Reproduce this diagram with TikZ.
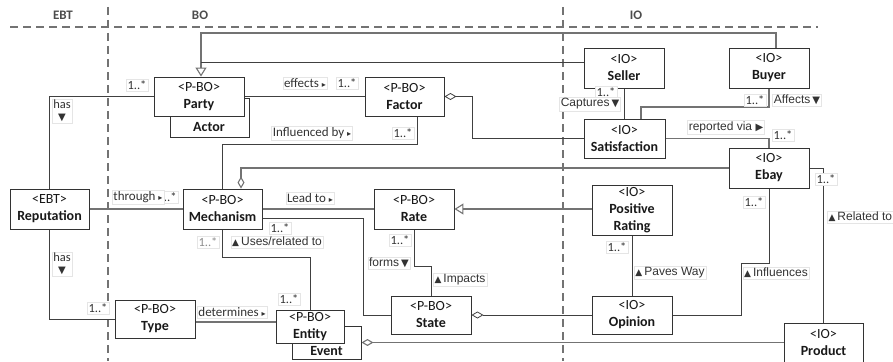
\documentclass[tikz,border=0pt]{standalone}
\usepackage{fontspec}
\setmainfont{Carlito}
\newfontfamily\arialf{Liberation Sans}
\newfontfamily\symf{DejaVu Sans}
\usetikzlibrary{arrows.meta}
\pgfdeclarelayer{bg}
\pgfsetlayers{bg,main}

% small direction marks used inside association labels
\newcommand\dirR{{\symf\fontsize{8}{8}\selectfont ▸}}
\newcommand\dirRR{{\symf\fontsize{10}{10}\selectfont ▶}}
\newcommand\dirD{{\symf\fontsize{10}{10}\selectfont ▼}}
\newcommand\dirU{{\symf\fontsize{9}{9}\selectfont ▲}}

\tikzset{
  umlbox/.style={draw=black!80, line width=0.9pt, fill=white, inner sep=0pt,
    align=center, font=\fontsize{14}{17}\selectfont, text=black!90},
  boxname/.style={inner sep=0pt, font=\bfseries\fontsize{14}{17}\selectfont, text=black!90},
  conn/.style={draw=black!75, line width=0.8pt},
  connl/.style={draw=black!55, line width=1.1pt},
  lab/.style={fill=white, draw=black!10, line width=0.4pt, inner sep=1.3pt,
    align=center, font=\arialf\fontsize{12}{13}\selectfont, text=black!80},
  labc/.style={lab, font=\fontsize{13}{14}\selectfont},
  mult/.style={lab, font=\fontsize{12.5}{13}\selectfont},
  gentip/.style={-{Triangle[length=9pt, width=11pt, fill=white]}},
  aggtip/.style={-{Diamond[length=12pt, width=7pt, fill=white]}},
  lane/.style={draw=black!55, line width=1.1pt, dash pattern=on 8pt off 5pt},
  head/.style={font=\bfseries\fontsize{13}{14}\selectfont, text=black!70}
}

\begin{document}
\begin{tikzpicture}[x=1pt, y=-1pt]
\useasboundingbox (0,0) rectangle (893,361);

% swim-lane headers
\node[head] (hebt) at (63,15) {EBT};
\node[head] (hbo)  at (200,15) {BO};
\node[head] (hio)  at (636,15) {IO};

% classes
\node[umlbox, minimum width=79pt, minimum height=39pt] (actor) at (209.5,117.5) {};
\node[boxname] (actorname) at (209,127) {Actor};
\node[umlbox, minimum width=90pt, minimum height=39pt] (party) at (199,96.5) {<P-BO>\\\textbf{Party}};
\node[umlbox, minimum width=79pt, minimum height=39pt] (factor) at (404.5,96.5) {<P-BO>\\\textbf{Factor}};
\node[umlbox, minimum width=80pt, minimum height=40pt] (seller) at (624,68) {<IO>\\\textbf{Seller}};
\node[umlbox, minimum width=80pt, minimum height=40pt] (buyer) at (769,68) {<IO>\\\textbf{Buyer}};
\node[umlbox, minimum width=81pt, minimum height=39pt] (satisf) at (624.5,138.5) {<IO>\\\textbf{Satisfaction}};
\node[umlbox, minimum width=80pt, minimum height=40pt] (ebay) at (769,168) {<IO>\\\textbf{Ebay}};
\node[umlbox, minimum width=80pt, minimum height=50pt] (posrate) at (632,210) {<IO>\\\textbf{Positive}\\\textbf{Rating}};
\node[umlbox, minimum width=79pt, minimum height=40pt] (reput) at (49.5,209) {<EBT>\\\textbf{Reputation}};
\node[umlbox, minimum width=79pt, minimum height=40pt] (mech) at (222.5,209) {<P-BO>\\\textbf{Mechanism}};
\node[umlbox, minimum width=80pt, minimum height=40pt] (rate) at (414,209) {<P-BO>\\\textbf{Rate}};
\node[umlbox, minimum width=80pt, minimum height=38pt] (type) at (155,319) {<P-BO>\\\textbf{Type}};
\node[umlbox, minimum width=69pt, minimum height=33pt] (event) at (326.5,342.5) {};
\node[boxname] (eventname) at (326.5,351) {Event};
\node[umlbox, minimum width=68pt, minimum height=33pt] (entity) at (310,326.5) {<P-BO>\\\textbf{Entity}};
\node[umlbox, minimum width=80pt, minimum height=38pt] (state) at (431,315) {<P-BO>\\\textbf{State}};
\node[umlbox, minimum width=80pt, minimum height=38pt] (opinion) at (632,315) {<IO>\\\textbf{Opinion}};
\node[umlbox, minimum width=79pt, minimum height=40pt] (product) at (823.5,343) {<IO>\\\textbf{Product}};

\begin{pgfonlayer}{bg}
  % lane separators
  \coordinate (laneL) at (10,27);
  \coordinate (laneR) at (818,27);
  \coordinate (v1top) at (108,7);
  \coordinate (v1bot) at (108,361);
  \coordinate (v2top) at (563,7);
  \coordinate (v2bot) at (563,361);
  \draw[lane] (laneL) -- (laneR);
  \draw[lane] (v1top) -- (v1bot);
  \draw[lane] (v2top) -- (v2bot);

  % generalisations towards Party
  \draw[connl, gentip] ([xshift=7pt]buyer.north) -- (776,33) -- (201,33) -- ([xshift=2pt]party.north);
  \draw[conn] (seller.west |- 0,62) -- (201,62);
  % generalisation towards Rate
  \draw[connl, gentip] (posrate.west |- rate.east) -- (rate.east);

  % associations
  \draw[conn] (party.east) -- (factor.west);
  \draw[conn] (reput.north) |- (party.west);
  \draw[conn] (reput.south) |- (type.west);
  \draw[connl] (reput.east) -- (mech.west);
  \draw[conn] ([xshift=12.5pt]factor.south) |- (mech.north |- 0,144) -- (mech.north);
  \draw[conn] (seller.south) -- (seller.south |- satisf.north);
  \draw[connl] (buyer.south) |- (641,107) -- (641,0 |- satisf.north);
  \draw[connl] (satisf.east) -| (ebay.north);
  \draw[connl] (mech.east) -- (rate.west);
  \draw[conn] (mech.east |- 0,218) -| (363,0 |- state.west) -- (state.west);
  \draw[conn] (rate.south) |- (state.north |- 0,266) -- (state.north);
  \draw[conn] (mech.south) |- (entity.north |- 0,257) -- (entity.north);
  \draw[connl] (type.east |- 0,322) -- (entity.west |- 0,322);
  \draw[conn] (posrate.south) -- (opinion.north);
  \draw[conn] (opinion.east) -| (741,263) -| (ebay.south);
  \draw[conn] (ebay.east) -| (product.north);

  % aggregations
  \draw[conn, aggtip] (satisf.west) -| (472,0 |- factor.east) -- (factor.east);
  \draw[connl, aggtip] (ebay.west) -| (241,0 |- mech.north);
  \draw[conn, aggtip] (opinion.west) -- (state.east);
  \draw[connl, aggtip] (product.west |- event.east) -- (event.east);
\end{pgfonlayer}

% association labels and multiplicities
\node[mult] (m1) at (137,85) {1..*};
\node[lab, font=\fontsize{12.5}{12}\selectfont] (l1) at (62,111) {has\\\dirD};
\node[labc] (l2) at (305,83) {effects \dirR};
\node[mult] (m2) at (347,83) {1..*};
\node[labc] (l3) at (312,133) {Influenced by \dirR};
\node[mult] (m3) at (403,133) {1..*};
\node[mult] (m4) at (606,92) {1..*};
\node[lab] (l4) at (590,104) {Captures\,\dirD};
\node[mult] (m5) at (755,100) {1..*};
\node[lab] (l5) at (797,100) {Affects\,\dirD};
\node[lab] (l6) at (726,127) {reported via \dirRR};
\node[mult] (m6) at (783,135) {1..*};
\node[mult] (m7) at (826,179) {1..*};
\node[lab, anchor=west] (l7) at (827,217) {\dirU\,Related to};
\node[mult] (m8) at (754,202) {1..*};
\node[mult] (m9) at (617,247) {1..*};
\node[lab] (l8) at (670,273) {\dirU\,Paves Way};
\node[lab] (l9) at (776,273) {\dirU\,Influences};
\node[mult, anchor=east] (m10) at (178,197) {1..*};
\node[labc, anchor=east] (l10) at (164,197) {through \dirR};
\node[labc] (l11) at (310,198) {Lead to \dirR};
\node[mult] (m11) at (280,228) {1..*};
\node[lab] (l12) at (277,242) {\dirU\,Uses/related to};
\node[mult, text=black!45] (m12) at (208,242) {1..*};
\node[mult] (m13) at (400,240) {1..*};
\node[lab] (l13) at (389,263) {forms\,\dirD};
\node[lab] (l14) at (460,280) {\dirU\,Impacts};
\node[mult] (m14) at (289,299) {1..*};
\node[labc] (l15) at (232,312) {determines \dirR};
\node[mult] (m15) at (98,308) {1..*};
\node[lab, font=\fontsize{12.5}{12}\selectfont] (l16) at (62,264) {has\\\dirD};
\end{tikzpicture}
\end{document}
